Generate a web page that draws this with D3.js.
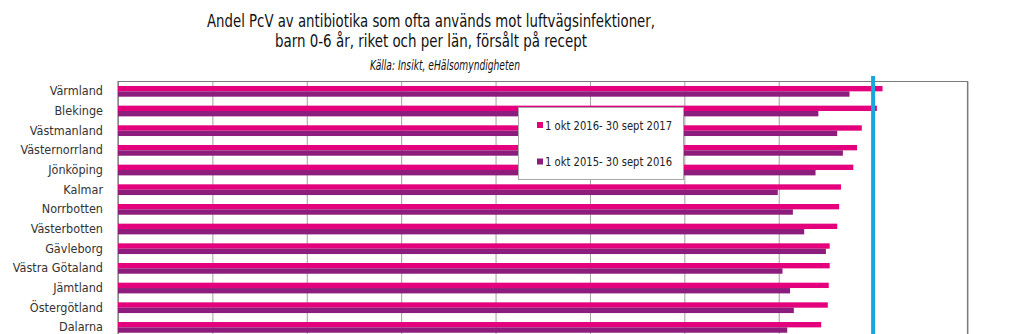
<!DOCTYPE html>
<html>
<head>
<meta charset="utf-8">
<script src="https://cdn.jsdelivr.net/npm/d3@7"></script>
<style>
  html, body { margin: 0; padding: 0; background: #fff; overflow: hidden; }
  svg { display: block; }
</style>
</head>
<body>
<svg id="chart" width="1024" height="334"></svg>
<script>
// Län, ordered as in the chart (top to bottom)
const regions = ["Värmland", "Blekinge", "Västmanland", "Västernorrland", "Jönköping", "Kalmar",
  "Norrbotten", "Västerbotten", "Gävleborg", "Västra Götaland", "Jämtland", "Östergötland", "Dalarna"];

// Andel PcV (%), 1 okt 2016 – 30 sept 2017
const period2017 = [81.0, 80.4, 78.8, 78.3, 77.9, 76.6, 76.4, 76.2, 75.4, 75.4, 75.3, 75.2, 74.5];
// Andel PcV (%), 1 okt 2015 – 30 sept 2016
const period2016 = [77.5, 74.2, 76.2, 76.8, 73.9, 69.9, 71.5, 72.7, 75.0, 70.4, 71.2, 71.6, 70.9];

const seriesNames = ["1 okt 2016- 30 sept 2017", "1 okt 2015- 30 sept 2016"];
const seriesColors = ["#e4007d", "#8c1d7c"];
const xTicks = [0, 10, 20, 30, 40, 50, 60, 70, 80, 90];
const target = 80;

const svg = d3.select("#chart");
const font = "'DejaVu Sans Condensed', 'DejaVu Sans', sans-serif";

const plot = { left: 118, right: 967.5, top: 81.5 };
const step = 19.67;

const x = d3.scaleLinear().domain([0, 90]).range([plot.left, plot.right]);
const y = d3.scaleBand().domain(regions)
  .range([plot.top, plot.top + step * regions.length])
  .paddingInner(0.455).paddingOuter(0.2275);
const ySeries = d3.scaleBand().domain([0, 1]).range([0, y.bandwidth()]);

// Title block: squeeze each line to its set width
function titleLine(txt, cx, cy, size, width, italic) {
  svg.append("text").attr("x", cx).attr("y", cy).attr("text-anchor", "middle")
    .attr("font-family", font).attr("font-stretch", "condensed").attr("font-size", size)
    .attr("font-style", italic ? "italic" : "normal").attr("fill", "#111")
    .attr("textLength", width).attr("lengthAdjust", "spacingAndGlyphs")
    .text(txt);
}
titleLine("Andel PcV av antibiotika som ofta används mot luftvägsinfektioner,", 431, 27, 17, 448, false);
titleLine("barn 0-6 år, riket och per län, försålt på recept", 431, 46.5, 17, 312, false);
titleLine("Källa: Insikt, eHälsomyndigheten", 445, 70, 13.5, 150, true);

// Gridlines through the x axis
const gridAxis = d3.axisBottom(x).tickValues(xTicks).tickSize(400).tickFormat("");
svg.append("g").attr("transform", `translate(0,${plot.top})`).call(gridAxis)
  .call(g => g.select(".domain").remove())
  .call(g => g.selectAll(".tick line").attr("stroke", "#a0a0a0").attr("stroke-width", 1));

// Plot frame
svg.append("path")
  .attr("d", `M${plot.left},400V${plot.top}H${plot.right}V400`)
  .attr("fill", "none").attr("stroke", "#7a7a7a").attr("stroke-width", 1.2);

// Category labels
const yAxis = d3.axisLeft(y).tickSize(0).tickPadding(15);
svg.append("g").attr("transform", `translate(${plot.left},0)`).call(yAxis)
  .call(g => g.select(".domain").remove())
  .call(g => g.selectAll("text").attr("font-family", font).attr("font-stretch", "condensed")
    .attr("font-size", 12.5).attr("fill", "#333"));

// Bars
const rows = svg.append("g").selectAll("g").data(regions).join("g")
  .attr("transform", d => `translate(0,${y(d)})`);
rows.selectAll("rect")
  .data((d, i) => [period2017[i], period2016[i]])
  .join("rect")
  .attr("x", x(0))
  .attr("y", (d, j) => ySeries(j))
  .attr("width", d => x(d) - x(0))
  .attr("height", ySeries.bandwidth())
  .attr("fill", (d, j) => seriesColors[j]);

// Target line at 80 %
svg.append("line")
  .attr("x1", x(target)).attr("x2", x(target))
  .attr("y1", plot.top - 5.5).attr("y2", 400)
  .attr("stroke", "#19a6dd").attr("stroke-width", 4);

// Legend
const legend = svg.append("g");
legend.append("rect").attr("x", 518.5).attr("y", 107.5).attr("width", 165).attr("height", 72)
  .attr("fill", "#fff").attr("stroke", "#a8a8a8").attr("stroke-width", 1);
const items = legend.selectAll("g.item").data(seriesNames).join("g").attr("class", "item")
  .attr("transform", (d, i) => `translate(537,${125 + i * 36.5})`);
items.append("rect").attr("x", 0).attr("y", -3).attr("width", 6).attr("height", 6)
  .attr("fill", (d, i) => seriesColors[i]);
items.append("text").attr("x", 8).attr("y", 4.5)
  .attr("font-family", font).attr("font-stretch", "condensed").attr("font-size", 12.5).attr("fill", "#222")
  .attr("textLength", 127).attr("lengthAdjust", "spacingAndGlyphs")
  .text(d => d);
</script>
</body>
</html>
